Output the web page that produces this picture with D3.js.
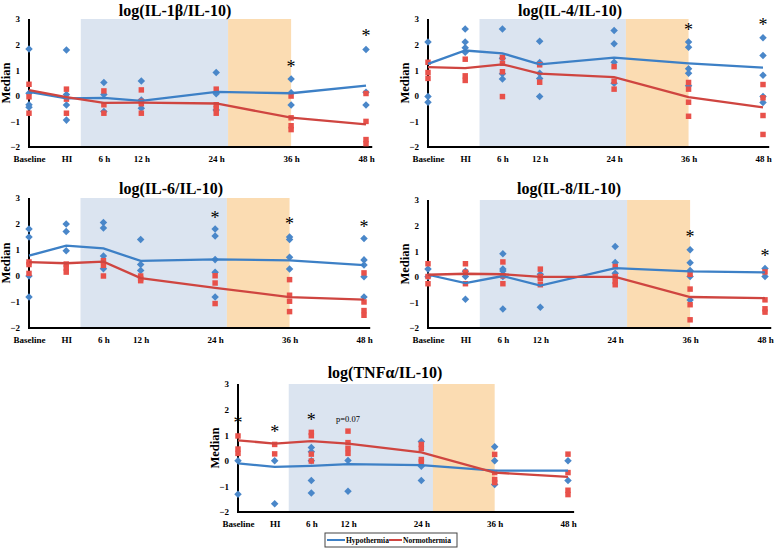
<!DOCTYPE html>
<html lang="en">
  <head>
    <meta charset="UTF-8" />
    <title>Cytokine ratios</title>
    <script src="https://cdn.jsdelivr.net/npm/d3@7"></script>
    <style>
      body { margin: 0; background: #fff; }
      svg { display: block; }
      text { font-family: "Liberation Serif", "Times New Roman", serif; }
    </style>
  </head>
  <body>
    <svg width="778" height="551"></svg>
    <script>
      // time points (hours relative to HI) and their labels
      const timeHours = [-6, 0, 6, 12, 24, 36, 48];
      const timeLabels = ["Baseline", "HI", "6 h", "12 h", "24 h", "36 h", "48 h"];
      const yTicks = [-2, -1, 0, 1, 2, 3];
      const coolingPhase = [2.3, 25.9];
      const rewarmPhase = [25.9, 36];

      // log(IL-1b/IL-10)
      const il1bHypoMed = [0.15, -0.1, -0.08, -0.2, 0.15, 0.1, 0.4];
      const il1bNormoMed = [0.22, -0.05, -0.28, -0.27, -0.3, -0.85, -1.12];
      const il1bHypoPts = [[1.83, 0.1, -0.35, -0.45], [1.79, 0.05, -0.36, -0.95], [0.52, 0.05, -0.61], [0.58, -0.16, -0.49], [0.91, 0.08, -0.55], [0.66, 0.12, -0.36], [1.81, 0.14, -0.36]];
      const il1bNormoPts = [[0.45, -0.04, -0.68], [0.26, -0.13, -0.68], [0.19, -0.35, -0.68], [0.23, -0.22, -0.31, -0.68], [0.26, -0.35, -0.5, -0.68], [-0.01, -0.86, -1.17, -1.32], [0.09, -1.0, -1.71, -1.87]];
      const il1bStars = [[36, 1.22], [48, 2.4]];

      // log(IL-4/IL-10)
      const il4HypoMed = [1.25, 1.77, 1.66, 1.23, 1.49, 1.27, 1.1];
      const il4NormoMed = [1.12, 1.08, 1.23, 0.87, 0.73, -0.05, -0.45];
      const il4HypoPts = [[2.1, -0.03, -0.25], [2.61, 2.1, 1.88, 1.7], [2.61, 1.47, 0.86, 0.66], [2.13, 1.3, 0.88, 0.68, -0.03], [2.55, 2.03, 1.31, 0.49], [2.1, 1.9, 1.06, 0.88, 0.39], [2.27, 1.57, 0.8, -0.03, -0.26]];
      const il4NormoPts = [[1.31, 0.91, 0.68], [1.43, 0.78, 0.6], [1.5, 1.27, 0.94, -0.03], [1.21, 0.53], [1.14, 0.57, 0.26], [0.52, 0.26, -0.25, -0.8], [0.44, -0.08, -0.77, -1.51]];
      const il4Stars = [[36, 2.64], [48, 2.86]];

      // log(IL-6/IL-10)
      const il6HypoMed = [0.78, 1.17, 1.06, 0.58, 0.64, 0.6, 0.42];
      const il6NormoMed = [0.53, 0.49, 0.55, -0.08, -0.46, -0.81, -0.91];
      const il6HypoPts = [[1.81, 1.5, 0, -0.81], [2.0, 1.71, 0.97], [2.06, 1.85, 0.77, 0.28], [1.4, 0.44, 0.21], [1.81, 1.54, 0.63, 0.14, -0.81], [1.5, 1.4, 0.72, 0.27], [1.44, 0.62, 0.42, -0.03, -0.81]];
      const il6NormoPts = [[0.54, 0.44, 0.1], [0.46, 0.31, 0.15], [0.59, 0.41, 0], [0, -0.1, -0.18], [0.01, -0.27, -1.06], [-0.14, -0.74, -0.97, -1.37], [0.12, -1.0, -1.33, -1.51]];
      const il6Stars = [[24, 2.32], [36, 2.06], [48, 1.97]];

      // log(IL-8/IL-10)
      const il8HypoMed = [0.08, -0.25, 0.03, -0.34, 0.34, 0.21, 0.17];
      const il8NormoMed = [0.08, 0.12, 0.1, 0, 0, -0.79, -0.83];
      const il8HypoPts = [[0.3, 0], [0.22, 0.01, -0.88], [0.9, 0.3, 0.23, 0.01, -1.26], [0.1, -1.19], [1.18, 0.56, 0.14], [1.06, 0.55, 0.25, 0.01, -0.91], [0.32, 0.01]];
      const il8NormoPts = [[0.51, 0.01, -0.27], [0.51, 0.18, -0.27], [0.58, 0.04, -0.27], [0.3, 0.01, -0.08, -0.31], [0.4, 0.01, -0.18, -0.31], [0.1, -0.48, -1.09, -1.68], [0.19, -0.9, -1.25, -1.38]];
      const il8Stars = [[36, 1.64], [48, 0.9]];

      // log(TNFa/IL-10)
      const tnfHypoMed = [-0.1, -0.24, -0.2, -0.13, -0.17, -0.38, -0.38];
      const tnfNormoMed = [0.8, 0.67, 0.77, 0.67, 0.33, -0.46, -0.63];
      const tnfHypoPts = [[0, -1.31], [0, -1.68], [0.52, 0.35, 0, -0.77, -1.26], [0.01, -1.19], [0.75, -0.21, -0.77], [0.55, 0, -0.93], [0, -0.77]];
      const tnfNormoPts = [[0.97, 0.46, 0.29], [0.64, 0.27], [1.11, 0.98, 0.26, -0.01], [1.16, 0.71, 0.48, 0.29], [0.64, 0.48, 0.05, -0.04], [0.25, -0.46, -0.73, -0.85], [0.26, -0.46, -1.15, -1.32]];
      const tnfStars = [[-6, 1.56], [0, 1.2], [6, 1.66]];
      const tnfNotes = [[12, 1.62, "p=0.07"]];

      const blueMark = "#4a87c9";
      const redMark = "#e8514a";
      const blueLine = "#3d80c6";
      const redLine = "#cf4540";

      // layout of each small chart
      const panels = [
        { title: "log(IL-1β/IL-10)", x0: 29, x1: 366, top: 19, bottom: 147, tx: 175, ty: 16,
          hypoMed: il1bHypoMed, normoMed: il1bNormoMed, hypoPts: il1bHypoPts, normoPts: il1bNormoPts, stars: il1bStars, notes: [] },
        { title: "log(IL-4/IL-10)", x0: 428, x1: 763, top: 19, bottom: 147, tx: 570, ty: 16,
          hypoMed: il4HypoMed, normoMed: il4NormoMed, hypoPts: il4HypoPts, normoPts: il4NormoPts, stars: il4Stars, notes: [] },
        { title: "log(IL-6/IL-10)", x0: 29, x1: 364, top: 198, bottom: 328, tx: 171, ty: 194,
          hypoMed: il6HypoMed, normoMed: il6NormoMed, hypoPts: il6HypoPts, normoPts: il6NormoPts, stars: il6Stars, notes: [] },
        { title: "log(IL-8/IL-10)", x0: 428, x1: 765, top: 200, bottom: 328, tx: 569, ty: 194,
          hypoMed: il8HypoMed, normoMed: il8NormoMed, hypoPts: il8HypoPts, normoPts: il8NormoPts, stars: il8Stars, notes: [] },
        { title: "log(TNFα/IL-10)", x0: 238, x1: 568, top: 384, bottom: 512, tx: 385, ty: 378,
          hypoMed: tnfHypoMed, normoMed: tnfNormoMed, hypoPts: tnfHypoPts, normoPts: tnfNormoPts, stars: tnfStars, notes: tnfNotes }
      ];

      const svg = d3.select("svg");

      panels.forEach((p) => {
        const x = d3.scaleLinear().domain([-6, 48]).range([p.x0, p.x1]);
        const y = d3.scaleLinear().domain([-2, 3]).range([p.bottom, p.top]);
        const g = svg.append("g");

        // shaded phases
        g.append("rect")
          .attr("x", x(coolingPhase[0])).attr("y", y(3))
          .attr("width", x(coolingPhase[1]) - x(coolingPhase[0]))
          .attr("height", y(-2) - y(3))
          .attr("fill", "#dbe4f0");
        g.append("rect")
          .attr("x", x(rewarmPhase[0])).attr("y", y(3))
          .attr("width", x(rewarmPhase[1]) - x(rewarmPhase[0]))
          .attr("height", y(-2) - y(3))
          .attr("fill", "#fbdcb2");

        // title
        g.append("text")
          .attr("x", p.tx).attr("y", p.ty)
          .attr("text-anchor", "middle")
          .attr("font-size", 16).attr("font-weight", "bold")
          .text(p.title);

        // axes: labels via d3, thick lines drawn by hand
        const xAxis = g.append("g")
          .attr("transform", `translate(0,${p.bottom})`)
          .call(d3.axisBottom(x).tickValues(timeHours).tickSize(0).tickPadding(9)
            .tickFormat((d, i) => timeLabels[i]));
        const yAxis = g.append("g")
          .attr("transform", `translate(${p.x0},0)`)
          .call(d3.axisLeft(y).tickValues(yTicks).tickSize(0).tickPadding(9).tickFormat(d3.format("d")));
        [xAxis, yAxis].forEach((a) => {
          a.select(".domain").remove();
          a.selectAll("text").attr("font-size", 9).attr("font-weight", "bold")
            .attr("font-family", "Liberation Serif, serif").attr("fill", "#000");
        });

        g.append("line")
          .attr("x1", p.x0).attr("x2", p.x0)
          .attr("y1", p.top).attr("y2", p.bottom + 1)
          .attr("stroke", "#000").attr("stroke-width", 2);
        g.append("line")
          .attr("x1", p.x0 - 1).attr("x2", x(49))
          .attr("y1", p.bottom).attr("y2", p.bottom)
          .attr("stroke", "#000").attr("stroke-width", 2);

        g.append("text")
          .attr("transform", `translate(${p.x0 - 23},${(p.top + p.bottom) / 2}) rotate(-90)`)
          .attr("text-anchor", "middle")
          .attr("dominant-baseline", "central")
          .attr("font-size", 12.5).attr("font-weight", "bold")
          .text("Median");

        // individual values
        const hypoFlat = p.hypoPts.flatMap((vals, i) => vals.map((v) => [timeHours[i], v]));
        const normoFlat = p.normoPts.flatMap((vals, i) => vals.map((v) => [timeHours[i], v]));

        g.selectAll(".hypo").data(hypoFlat).join("path")
          .attr("transform", (d) => `translate(${x(d[0])},${y(d[1])})`)
          .attr("d", d3.symbol(d3.symbolDiamond2, 36))
          .attr("fill", blueMark);
        g.selectAll(".normo").data(normoFlat).join("path")
          .attr("transform", (d) => `translate(${x(d[0])},${y(d[1])})`)
          .attr("d", d3.symbol(d3.symbolSquare, 30))
          .attr("fill", redMark);

        // median lines
        const line = d3.line()
          .x((d, i) => x(timeHours[i]))
          .y((d) => y(d));
        g.append("path").attr("d", line(p.hypoMed))
          .attr("fill", "none").attr("stroke", blueLine).attr("stroke-width", 2.3);
        g.append("path").attr("d", line(p.normoMed))
          .attr("fill", "none").attr("stroke", redLine).attr("stroke-width", 2.3);

        // significance marks
        g.selectAll(".star").data(p.stars).join("text")
          .attr("x", (d) => x(d[0])).attr("y", (d) => y(d[1]) + 8)
          .attr("text-anchor", "middle")
          .attr("font-size", 18)
          .text("*");
        g.selectAll(".note").data(p.notes).join("text")
          .attr("x", (d) => x(d[0])).attr("y", (d) => y(d[1]) + 3)
          .attr("text-anchor", "middle")
          .attr("font-size", 8.5)
          .text((d) => d[2]);
      });

      // legend
      const legend = svg.append("g").attr("transform", "translate(325,533)");
      legend.append("rect")
        .attr("width", 132).attr("height", 14)
        .attr("fill", "#fff").attr("stroke", "#444").attr("stroke-width", 1);
      const legendItems = [["Hypothermia", blueLine, 2, 18], ["Normothermia", redLine, 64, 13]];
      legendItems.forEach(([name, color, lx, len]) => {
        legend.append("line")
          .attr("x1", lx).attr("x2", lx + len).attr("y1", 7).attr("y2", 7)
          .attr("stroke", color).attr("stroke-width", 2);
        legend.append("text")
          .attr("x", lx + len + 1).attr("y", 10)
          .attr("font-size", 7.5).attr("font-weight", "bold")
          .text(name);
      });
    </script>
  </body>
</html>
